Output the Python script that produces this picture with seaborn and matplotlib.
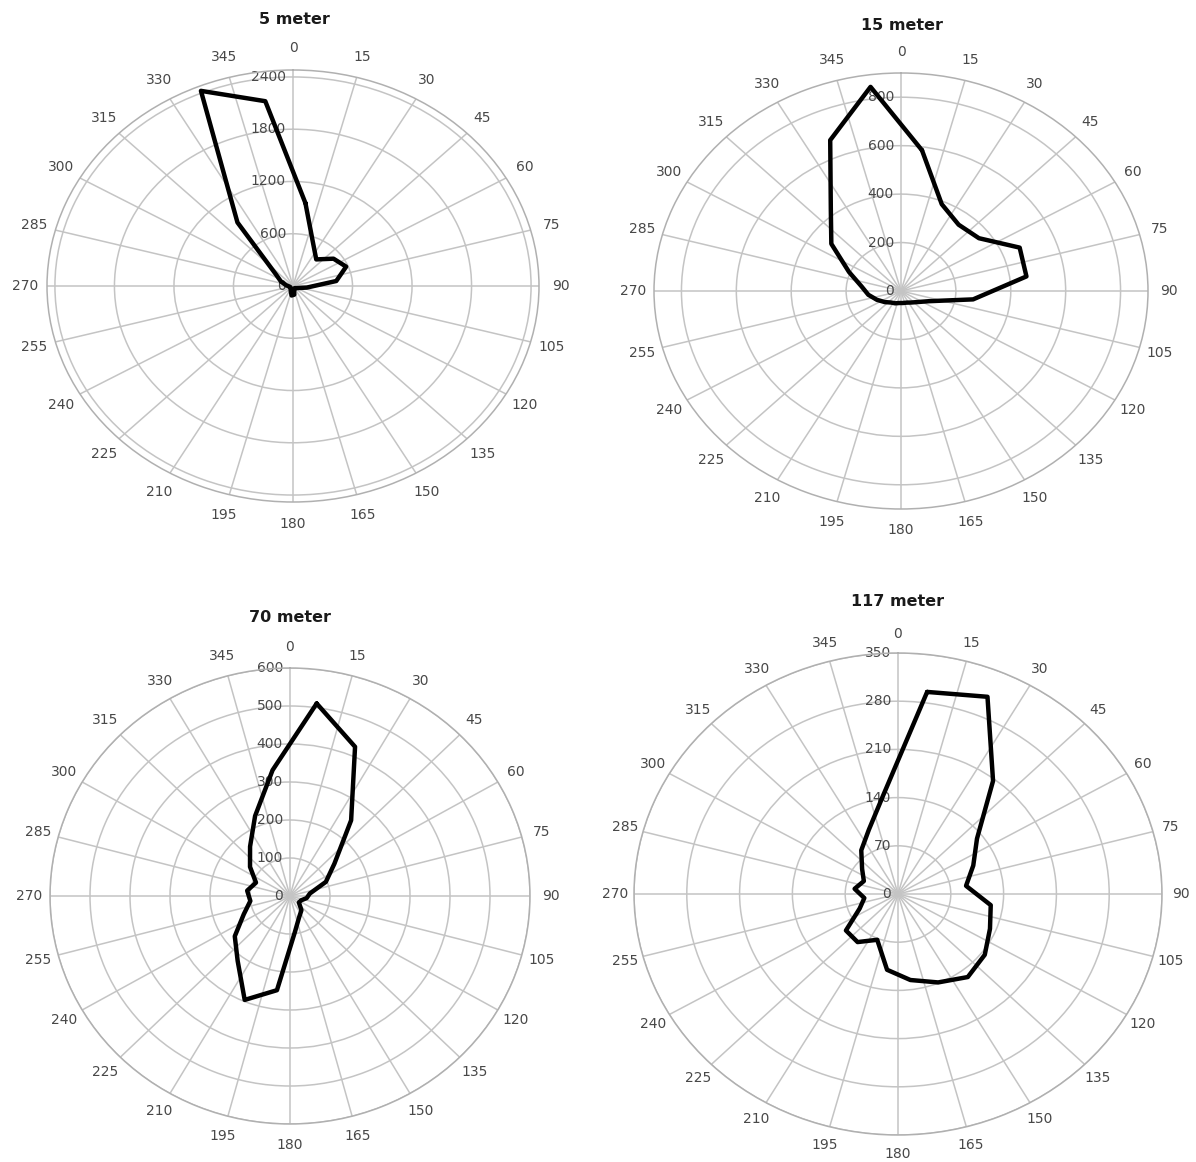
import numpy as np
import pandas as pd
import matplotlib
matplotlib.use("Agg")
import matplotlib.pyplot as plt
import matplotlib.transforms as mtransforms
import seaborn as sns

# ---------------- data ----------------
directions = [7.5, 22.5, 37.5, 52.5, 67.5, 82.5, 97.5, 112.5, 127.5, 142.5, 157.5, 172.5,
              187.5, 202.5, 217.5, 232.5, 247.5, 262.5, 277.5, 292.5, 307.5, 322.5, 337.5, 352.5]

spoke_angles = [0, 15, 30, 45, 60, 75, 90, 105, 120, 135, 150, 165,
                180, 195, 210, 225, 240, 255, 270, 285, 300, 315, 330, 345]
spoke_labels = ["0", "15", "30", "45", "60", "75", "90", "105", "120", "135", "150", "165",
                "180", "195", "210", "225", "240", "255", "270", "285", "300", "315", "330", "345"]

m5 = [960, 530, 385, 515, 580, 440, 140, 60, 40, 30, 30, 100,
      110, 60, 40, 30, 30, 40, 70, 130, 215, 920, 2425, 2140]
m15 = [586, 388, 345, 358, 468, 461, 265, 110, 75, 60, 52, 50,
       50, 55, 60, 75, 95, 120, 145, 205, 320, 420, 674, 850]
m70 = [511, 425, 251, 140, 97, 50, 42, 30, 28, 47, 60, 95,
       250, 296, 215, 174, 125, 100, 108, 92, 126, 164, 228, 334]
m117 = [296, 310, 207, 132, 108, 91, 124, 132, 145, 152, 139, 126,
        111, 72, 88, 87, 55, 45, 58, 49, 60, 80, 101, 146]

titles = ["5 meter", "15 meter", "70 meter", "117 meter"]
rings_5 = [0, 600, 1200, 1800, 2400]
rings_15 = [0, 200, 400, 600, 800]
rings_70 = [0, 100, 200, 300, 400, 500, 600]
rings_117 = [0, 70, 140, 210, 280, 350]
outer_limits = [2480, 900, 600, 350]

series = [m5, m15, m70, m117]
rings = [rings_5, rings_15, rings_70, rings_117]

# ---------------- layout (pixels) ----------------
W, H = 1196, 1162
# (left, top, right, bottom) of the outer ring in pixels
boxes = [(47, 70, 539, 502),
         (654, 73, 1148, 509),
         (50, 668, 530, 1124),
         (634, 653, 1162, 1135)]
title_pos = [(294, 19), (902, 25), (290, 617), (898, 602)]
label_pad = [4.5, 4.0, 4.0, 2.5]

sns.set_theme(style="white")
plt.rcParams["font.family"] = ["DejaVu Sans"]

fig = plt.figure(figsize=(W / 100, H / 100), dpi=100)
fig.patch.set_facecolor("white")

grid_col = "#c4c4c4"
text_col = "#484848"

for i in range(4):
    l, t, r, b = boxes[i]
    ax = fig.add_axes([l / W, 1 - b / H, (r - l) / W, (b - t) / H], projection="polar")
    ax.set_aspect("auto")
    ax.set_theta_zero_location("N")
    ax.set_theta_direction(-1)
    ax.set_facecolor("white")

    df = pd.DataFrame({"theta": np.deg2rad(directions + [directions[0]]),
                       "r": series[i] + [series[i][0]]})
    sns.lineplot(data=df, x="theta", y="r", sort=False, estimator=None,
                 color="black", linewidth=3.2, ax=ax)

    ax.set_ylim(0, outer_limits[i])
    ax.set_yticks(rings[i])
    ax.set_yticklabels([])
    ax.set_xticks(np.deg2rad(spoke_angles))
    ax.set_xticklabels(spoke_labels)
    ax.tick_params(axis="x", pad=label_pad[i], labelsize=10, labelcolor=text_col,
                   length=4, color=grid_col, direction="out")
    ax.tick_params(axis="y", length=0)
    ax.grid(True, color=grid_col, linewidth=1.1)
    ax.spines["polar"].set_color("#b0b0b0")
    ax.spines["polar"].set_linewidth(1.1)
    ax.set_xlabel("")
    ax.set_ylabel("")

    off = mtransforms.offset_copy(ax.transData, fig=fig, x=-5, y=0, units="points")
    for rv in rings[i]:
        ax.text(0, rv, str(rv), transform=off, ha="right", va="center",
                fontsize=10, color=text_col, zorder=1)

    tx, ty = title_pos[i]
    fig.text(tx / W, 1 - ty / H, titles[i], ha="center", va="center",
             fontsize=11.5, fontweight="bold", color="#1a1a1a")

fig.savefig("out.png", dpi=100, facecolor="white")
